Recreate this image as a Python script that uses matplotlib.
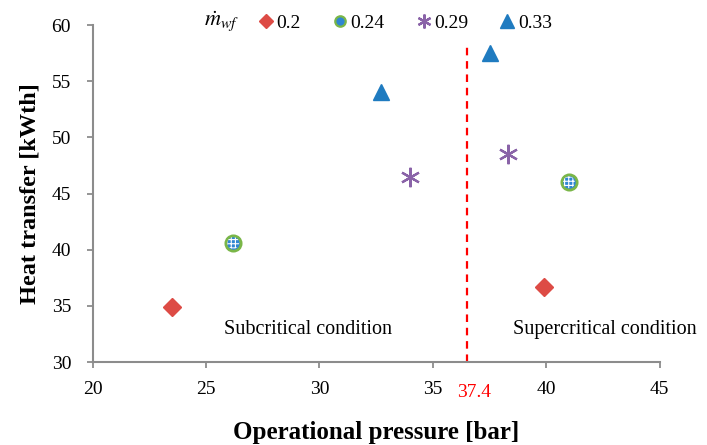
import matplotlib.pyplot as plt
from matplotlib.lines import Line2D

plt.rcParams['font.family'] = ['Liberation Serif', 'DejaVu Serif']
plt.rcParams['mathtext.fontset'] = 'stix'
plt.rcParams['hatch.linewidth'] = 0.8

# mass flow rates of working fluid
flujos = ["0.2", "0.24", "0.29", "0.33"]
# operational pressure [bar], one pair per flow rate (subcritical, supercritical)
presion = [[23.5, 39.9], [26.2, 41.0], [34.0, 38.3], [32.7, 37.5]]
# heat transfer [kWth]
calor = [[34.9, 36.7], [40.6, 46.0], [46.5, 48.5], [54.0, 57.5]]

p_critica = 36.5
p_critica_txt = "37.4"

xticks = [20, 25, 30, 35, 40, 45]
yticks = [30, 35, 40, 45, 50, 55, 60]

marcadores = ["D", "o", (6, 2, 0), "^"]
colores = ["#dd4b45", "#2f86d2", "#8a63a8", "#1f7bc0"]
tamanos = [9.5, 11, 14, 12]

gris = "#8c8c8c"

fig = plt.figure(figsize=(7.07, 4.45), dpi=100)
ax = fig.add_axes([0.131, 0.1865, 0.802, 0.7573])

for k in range(len(flujos)):
    if k == 1:
        # circulo con relleno a cuadros
        ax.plot(presion[k], calor[k], ls="none", marker="o", ms=tamanos[k],
                mfc=colores[k], mec="#7ab648", mew=2, zorder=3)
        ax.scatter(presion[k], calor[k], s=(tamanos[k] - 2.5) ** 2, marker="o",
                   facecolor="none", edgecolor="white", linewidth=0,
                   hatch="++++", zorder=4)
    elif k == 2:
        ax.plot(presion[k], calor[k], ls="none", marker=marcadores[k],
                ms=tamanos[k], mec=colores[k], mew=1.6, zorder=3)
    else:
        ax.plot(presion[k], calor[k], ls="none", marker=marcadores[k],
                ms=tamanos[k], color=colores[k], zorder=3)

# linea de presion critica
ax.axvline(p_critica, ymin=0, ymax=(58.5 - 30) / 30, color="red",
           ls=(0, (3.4, 2.6)), lw=1.6, zorder=2)
ax.annotate(p_critica_txt, xy=(p_critica, 0), xycoords=("data", "axes fraction"),
            xytext=(5, -15.5), textcoords="offset points", color="red",
            fontsize=14, ha="center", va="top")

ax.text(25.8, 32.85, "Subcritical condition", fontsize=14.5, va="center")
ax.text(38.55, 32.85, "Supercritical condition", fontsize=14.5, va="center")

ax.set_xlim(20, 45)
ax.set_ylim(30, 60)
ax.set_xticks(xticks)
ax.set_yticks(yticks)
ax.tick_params(labelsize=14, color=gris, length=4.5, width=1.3)
ax.tick_params(axis="x", pad=9)
ax.tick_params(axis="y", pad=11)
for lado in ["top", "right"]:
    ax.spines[lado].set_visible(False)
for lado in ["left", "bottom"]:
    ax.spines[lado].set_color(gris)
    ax.spines[lado].set_linewidth(1.5)

ax.set_xlabel("Operational pressure [bar]", fontsize=18, fontweight="bold", labelpad=17)
ax.set_ylabel("Heat transfer [kWth]", fontsize=17.5, fontweight="bold", labelpad=8)

# leyenda
handles = []
for k in range(len(flujos)):
    if k == 1:
        h = Line2D([], [], ls="none", marker="o", ms=7.5, mfc=colores[k],
                   mec="#7ab648", mew=1.6)
    elif k == 2:
        h = Line2D([], [], ls="none", marker=marcadores[k], ms=10,
                   mec=colores[k], mew=1.6)
    else:
        h = Line2D([], [], ls="none", marker=marcadores[k], ms=7.5 if k == 0 else 9.5,
                   color=colores[k])
    handles.append(h)
fig.legend(handles, flujos, ncol=4, frameon=False, fontsize=14,
           loc="center left", bbox_to_anchor=(0.368, 0.949),
           handlelength=0.6, handletextpad=0.25, columnspacing=1.7,
           borderaxespad=0, borderpad=0)
fig.text(0.289, 0.952, r"$\dot{m}_{wf}$", fontsize=16, ha="left", va="center")

fig.savefig("out.png", dpi=100)
